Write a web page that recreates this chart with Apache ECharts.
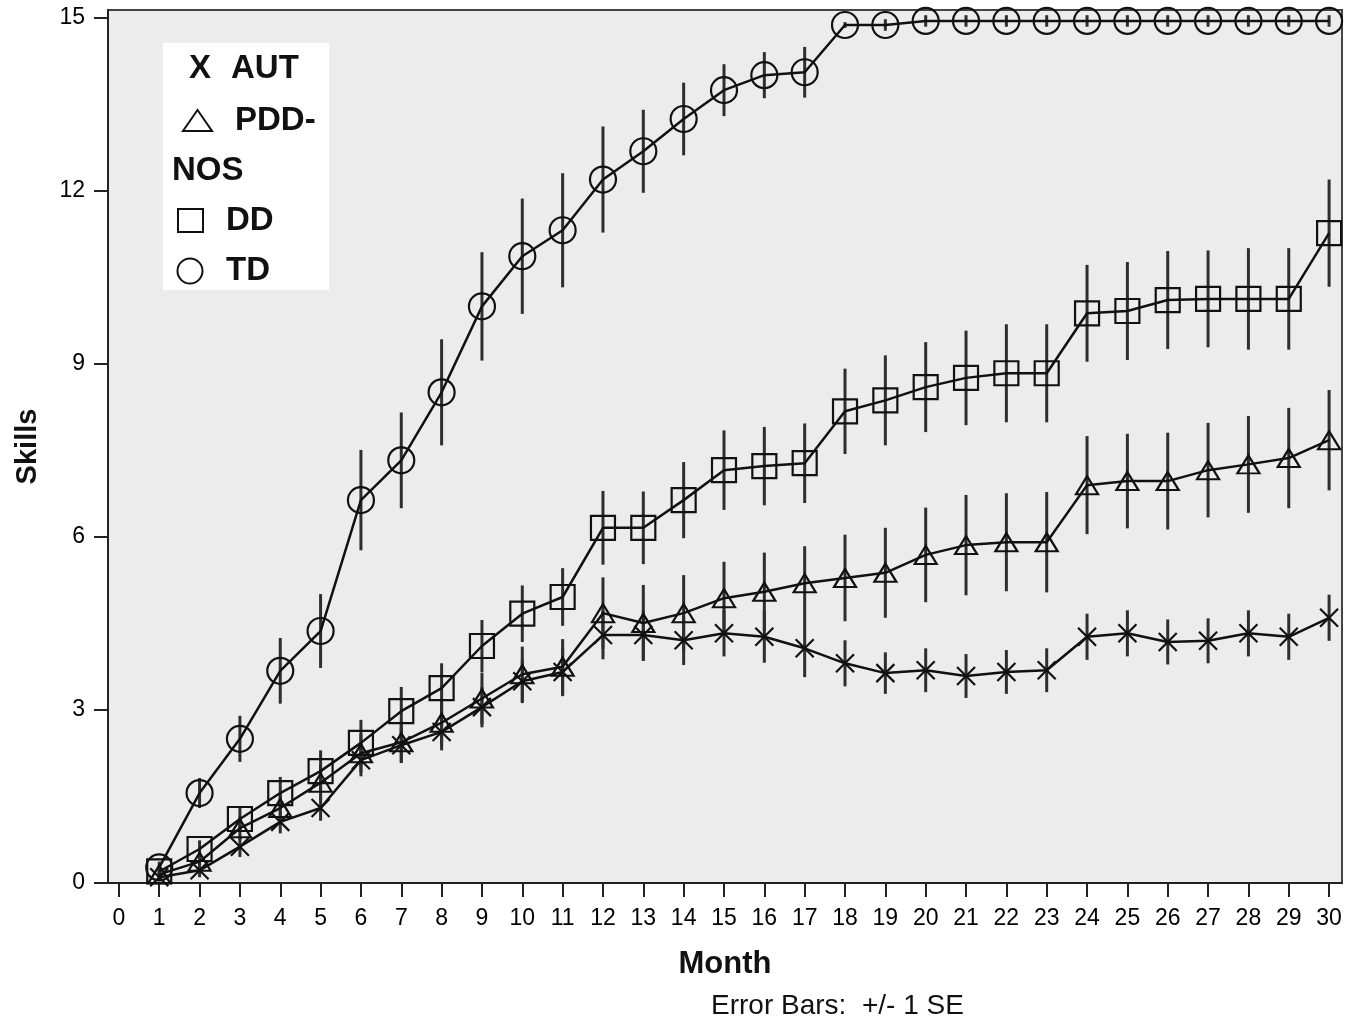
<!DOCTYPE html>
<html>
<head>
<meta charset="utf-8">
<script src="https://cdn.jsdelivr.net/npm/echarts@6/dist/echarts.min.js"></script>
<style>
html,body{margin:0;padding:0;background:#fff;}
#chart{width:1349px;height:1023px;}
</style>
</head>
<body>
<div id="chart"></div>
<script>
// ---- data ----
var months = [1,2,3,4,5,6,7,8,9,10,11,12,13,14,15,16,17,18,19,20,21,22,23,24,25,26,27,28,29,30];
var xTicks = [0,1,2,3,4,5,6,7,8,9,10,11,12,13,14,15,16,17,18,19,20,21,22,23,24,25,26,27,28,29,30];
var yTicks = [0,3,6,9,12,15];

var autMean = [0.10,0.22,0.63,1.06,1.30,2.13,2.39,2.62,3.05,3.50,3.66,4.30,4.30,4.21,4.33,4.27,4.07,3.81,3.64,3.69,3.59,3.66,3.69,4.27,4.33,4.18,4.20,4.33,4.27,4.60];
var autSE   = [0.05,0.12,0.18,0.20,0.22,0.28,0.30,0.32,0.35,0.38,0.42,0.42,0.43,0.43,0.40,0.45,0.50,0.40,0.36,0.38,0.38,0.38,0.38,0.40,0.40,0.39,0.39,0.40,0.40,0.40];

var pddMean = [0.15,0.37,0.95,1.30,1.74,2.25,2.44,2.78,3.20,3.62,3.75,4.68,4.51,4.68,4.94,5.05,5.20,5.29,5.38,5.69,5.86,5.91,5.91,6.90,6.97,6.97,7.16,7.26,7.37,7.68];
var pddSE   = [0.08,0.15,0.20,0.25,0.30,0.33,0.36,0.40,0.45,0.48,0.48,0.62,0.66,0.66,0.63,0.68,0.64,0.75,0.78,0.82,0.87,0.85,0.87,0.85,0.82,0.84,0.82,0.84,0.87,0.87];

var ddMean = [0.20,0.59,1.11,1.56,1.94,2.43,2.98,3.38,4.11,4.67,4.96,6.16,6.16,6.64,7.16,7.23,7.28,8.18,8.37,8.60,8.76,8.84,8.84,9.88,9.92,10.11,10.13,10.13,10.13,11.27];
var ddSE   = [0.08,0.15,0.22,0.28,0.36,0.40,0.42,0.43,0.45,0.49,0.50,0.64,0.63,0.66,0.69,0.68,0.69,0.74,0.78,0.78,0.82,0.85,0.85,0.84,0.85,0.85,0.84,0.88,0.88,0.93];

var tdMean = [0.27,1.56,2.50,3.68,4.37,6.64,7.33,8.51,10.00,10.87,11.32,12.20,12.69,13.25,13.75,14.01,14.06,14.88,14.88,14.95,14.95,14.95,14.95,14.95,14.95,14.95,14.95,14.95,14.95,14.95];
var tdSE   = [0.10,0.26,0.40,0.57,0.64,0.87,0.83,0.92,0.94,1.00,0.99,0.92,0.72,0.63,0.45,0.40,0.44,0.05,0.10,0.10,0.10,0.10,0.10,0.10,0.10,0.10,0.10,0.10,0.10,0.10];

var groupNames = ['AUT','PDD-NOS','DD','TD'];

// ---- build ----
function pts(mean){ return months.map(function(m,i){ return [m, mean[i]]; }); }
function errs(mean,se){ return months.map(function(m,i){ return [m, mean[i]-se[i], mean[i]+se[i]]; }); }

function errSeries(name, mean, se){
  return {
    name: name + ' SE', type: 'custom', z: 2, silent: true,
    data: errs(mean, se),
    encode: {x: 0, y: [1,2]},
    renderItem: function(params, api){
      var p1 = api.coord([api.value(0), api.value(1)]);
      var p2 = api.coord([api.value(0), api.value(2)]);
      return {type:'line', shape:{x1:p1[0],y1:p1[1],x2:p2[0],y2:p2[1]},
              style:{stroke:'#2e2e2e', lineWidth:3}};
    }
  };
}
function lineSeries(name, mean, symbol, size){
  return {
    name: name, type: 'line', z: 3, silent: true,
    data: pts(mean),
    symbol: symbol, symbolSize: size, showAllSymbol: true,
    lineStyle: {color:'#111', width: 2.5},
    itemStyle: {color:'rgba(0,0,0,0)', borderColor:'#111', borderWidth: 2.2},
    emphasis: {disabled: true}
  };
}

var chart = echarts.init(document.getElementById('chart'));
var font = '"Liberation Sans", Arial, sans-serif';
function txt(x, y, s, f){
  return {type:'text', x:x, y:y, z:11, style:{text:s, font:f, fill:'#111', verticalAlign:'middle', align:'left'}};
}
var lf = 'bold 33px ' + font;
chart.setOption({
  animation: false,
  backgroundColor: '#ffffff',
  textStyle: {fontFamily: font},
  grid: {left:108, right:7, top:10, bottom:140, show:true, backgroundColor:'#ececec', borderColor:'#444', borderWidth:2},
  xAxis: {
    type:'value', min:-0.27, max:30.32,
    name:'Month', nameLocation:'middle', nameGap:66,
    nameTextStyle:{fontFamily:font, fontWeight:'bold', fontSize:31, color:'#111'},
    axisLine:{show:true, onZero:false, lineStyle:{color:'#222', width:2}},
    axisTick:{show:true, customValues:xTicks, length:14, lineStyle:{color:'#222', width:2}},
    axisLabel:{customValues:xTicks, fontSize:23, color:'#000', margin:24, fontFamily:font},
    splitLine:{show:false}
  },
  yAxis: {
    type:'value', min:0, max:15.14,
    name:'Skills', nameLocation:'middle', nameRotate:90, nameGap:66,
    nameTextStyle:{fontFamily:font, fontWeight:'bold', fontSize:29, color:'#111'},
    axisLine:{show:true, onZero:false, lineStyle:{color:'#222', width:2}},
    axisTick:{show:true, customValues:yTicks, length:14, lineStyle:{color:'#222', width:2}},
    axisLabel:{customValues:yTicks, fontSize:23, color:'#000', margin:23, fontFamily:font},
    splitLine:{show:false}
  },
  series: [
    errSeries(groupNames[0], autMean, autSE),
    errSeries(groupNames[1], pddMean, pddSE),
    errSeries(groupNames[2], ddMean, ddSE),
    errSeries(groupNames[3], tdMean, tdSE),
    lineSeries(groupNames[0], autMean, 'path://M0,0L10,10M10,0L0,10', 18),
    lineSeries(groupNames[1], pddMean, 'triangle', [22,18]),
    lineSeries(groupNames[2], ddMean, 'rect', 24),
    lineSeries(groupNames[3], tdMean, 'circle', 26)
  ],
  graphic: [
    {type:'rect', x:163, y:43, shape:{x:0, y:0, width:166, height:247}, style:{fill:'#ffffff'}, z:10},
    txt(189, 69, 'X', lf),
    txt(231, 69, 'AUT', lf),
    {type:'polygon', z:11, shape:{points:[[197.5,110],[183,131],[212,131]]}, style:{fill:'none', stroke:'#111', lineWidth:2}},
    txt(235, 121, 'PDD-', lf),
    txt(172, 171, 'NOS', lf),
    {type:'rect', z:11, shape:{x:178, y:209, width:25, height:23}, style:{fill:'none', stroke:'#111', lineWidth:2}},
    txt(226, 221, 'DD', lf),
    {type:'circle', z:11, shape:{cx:190, cy:271, r:12.5}, style:{fill:'none', stroke:'#111', lineWidth:2}},
    txt(226, 271, 'TD', lf),
    txt(711, 1006, 'Error Bars:  +/- 1 SE', '28px ' + font)
  ]
});
</script>
</body>
</html>
